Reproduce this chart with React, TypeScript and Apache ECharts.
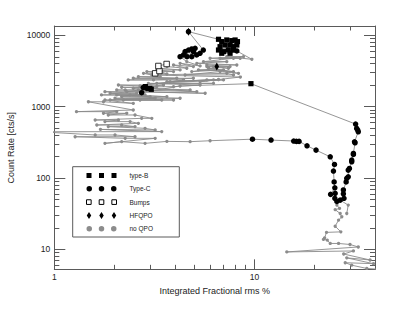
import React, { useEffect, useRef } from "react";
import * as echarts from "echarts";

type Pt = [number, number, string];
// [integrated fractional rms %, count rate cts/s, class]
// class: n = no QPO, B = type-B, C = type-C, U = bumps, H = HFQPO, HC = HFQPO + type-C

const riseTrack: Pt[] = [
  [28.9, 31.8, "n"], [29.4, 41.7, "n"],
  [26.8, 49, "C"], [28.0, 52, "C"], [27.8, 60, "C"], [27.8, 68, "C"], [28.7, 88, "C"],
  [28.9, 99, "C"], [29.4, 104, "C"], [29.4, 129, "C"], [29.8, 136, "C"], [30.6, 169, "C"],
  [30.6, 178, "C"], [31.2, 214, "C"], [31.2, 221, "C"], [31.8, 312, "C"], [31.6, 322, "C"],
  [33.0, 444, "C"], [32.8, 470, "C"], [32.4, 495, "C"], [32.0, 570, "C"],
  [9.6, 2100, "B"],
];

const softTrack: Pt[] = [
  [4.25, 1950, "n"],
  [2.73, 1570, "C"], [2.85, 1910, "B"], [2.78, 1850, "C"], [3.0, 1805, "B"], [2.9, 1800, "C"], [3.05, 1750, "B"],
  [3.25, 1910, "n"], [2.48, 1810, "n"], [3.51, 2010, "n"], [2.09, 2010, "n"], [2.68, 1950, "n"],
  [4.42, 2370, "n"], [2.34, 2370, "n"], [3.13, 2370, "n"], [4.95, 2500, "n"], [2.48, 2500, "n"],
  [4.09, 2500, "n"], [2.63, 2630, "n"], [3.38, 2630, "n"], [2.79, 2930, "n"],
  [3.19, 2930, "U"], [3.35, 3160, "U"],
  [3.65, 2870, "n"], [2.9, 3100, "n"], [3.94, 3100, "n"], [3.25, 3270, "n"], [4.25, 3270, "n"], [3.38, 3450, "n"],
  [3.31, 3715, "U"], [3.64, 3960, "U"],
  [3.65, 3640, "n"], [4.59, 3450, "n"], [3.94, 3840, "n"], [4.95, 3640, "n"], [4.25, 4050, "n"],
  [5.35, 3720, "n"], [4.59, 4270, "n"],
  [4.25, 5020, "C"], [4.42, 5300, "C"], [4.6, 5020, "C"], [4.5, 5900, "C"], [4.86, 5020, "C"],
  [4.68, 6220, "C"], [4.86, 6430, "C"], [5.05, 6580, "C"], [5.14, 5300, "C"], [4.95, 5900, "C"],
  [5.34, 5600, "C"], [5.55, 6220, "C"],
  [4.68, 11250, "HC"],
  [6.61, 8790, "B"], [6.86, 8150, "B"], [7.27, 8600, "B"], [7.7, 8420, "B"], [8.0, 8600, "B"],
  [8.22, 8150, "B"], [6.73, 6930, "B"], [7.13, 7310, "B"], [7.55, 7310, "B"], [7.85, 6930, "B"],
  [8.16, 7310, "B"], [6.61, 6220, "B"], [7.0, 5900, "B"], [7.4, 6220, "B"], [7.85, 6220, "B"],
  [6.86, 5600, "B"], [7.55, 5600, "B"],
  [8.16, 6030, "C"],
  [9.7, 4610, "n"], [7.27, 5020, "n"], [8.81, 5020, "n"], [6.0, 4760, "n"], [8.48, 4760, "n"],
  [6.73, 4760, "n"], [7.85, 4760, "n"], [5.56, 4270, "n"], [7.27, 4270, "n"], [5.15, 4050, "n"],
  [8.16, 3840, "n"], [5.78, 3840, "n"], [7.55, 3640, "n"], [5.78, 3640, "n"], [7.41, 3450, "n"],
  [6.48, 3640, "H"],
  [6.24, 3640, "n"], [6.48, 3450, "n"], [4.86, 3100, "n"], [7.0, 3270, "n"], [5.25, 3270, "n"],
  [7.85, 3100, "n"], [5.9, 3450, "n"], [8.32, 2930, "n"], [6.73, 3100, "n"], [4.5, 2780, "n"],
  [7.85, 2780, "n"], [7.27, 2930, "n"], [3.07, 2780, "n"], [8.5, 2600, "n"], [5.35, 2240, "n"],
  [6.61, 2400, "n"], [3.65, 2240, "n"], [6.24, 2370, "n"], [5.78, 2370, "n"], [3.79, 2240, "n"],
  [7.0, 2370, "n"], [3.25, 2120, "n"], [6.24, 2120, "n"], [2.95, 2120, "n"], [5.35, 2010, "n"],
  [3.94, 1910, "n"], [2.17, 1870, "n"], [4.77, 1710, "n"], [2.26, 1710, "n"], [2.05, 1710, "n"],
  [2.63, 1710, "n"], [5.15, 1620, "n"], [3.07, 1810, "n"], [2.3, 1620, "n"], [5.67, 1540, "n"],
  [2.79, 1620, "n"], [1.79, 1620, "n"], [2.58, 1540, "n"], [1.9, 1540, "n"], [2.84, 1460, "n"],
  [1.72, 1460, "n"], [2.39, 1460, "n"], [3.65, 1380, "n"], [2.05, 1460, "n"], [3.01, 1380, "n"],
  [2.17, 1380, "n"], [4.25, 1310, "n"], [2.01, 1310, "n"], [3.19, 1310, "n"], [1.9, 1240, "n"],
  [3.94, 1240, "n"], [2.21, 1240, "n"], [3.44, 1240, "n"], [2.68, 1240, "n"], [1.79, 1240, "n"],
  [2.48, 1110, "n"], [1.76, 1170, "n"], [1.48, 1170, "n"],
];

const lowTrack: Pt[] = [
  [2.48, 897, "n"], [1.29, 851, "n"], [2.05, 851, "n"], [1.76, 807, "n"], [2.3, 807, "n"],
  [1.86, 764, "n"], [2.53, 764, "n"], [3.07, 686, "n"], [2.73, 686, "n"], [1.6, 650, "n"],
  [2.09, 650, "n"], [1.79, 617, "n"], [2.39, 617, "n"], [2.63, 584, "n"], [1.63, 553, "n"],
  [2.17, 553, "n"], [2.53, 525, "n"], [1.86, 525, "n"], [2.84, 497, "n"], [3.19, 471, "n"],
  [1.7, 480, "n"], [3.44, 447, "n"], [0.85, 445, "n"], [1.6, 401, "n"], [2.01, 401, "n"],
  [2.53, 379, "n"], [1.27, 379, "n"], [2.26, 360, "n"], [3.19, 360, "n"], [1.79, 306, "n"],
  [2.17, 323, "n"], [2.84, 306, "n"], [3.65, 326, "n"], [4.77, 323, "n"], [6.0, 333, "n"],
];

const decayTrack: Pt[] = [
  [9.77, 350, "C"], [12.1, 340, "C"], [15.7, 330, "C"], [16.2, 326, "C"], [16.7, 326, "C"],
  [18.3, 283, "C"], [20.3, 246, "C"], [23.9, 198, "C"], [25.1, 155, "C"], [24.8, 125, "C"],
  [25.0, 88, "C"], [25.2, 73, "C"], [24.0, 59, "C"], [25.3, 61, "C"], [25.2, 52, "C"], [25.8, 47, "C"],
];

const tailTrack: Pt[] = [
  [25.8, 41.7, "n"], [26.6, 37.5, "n"], [25.3, 36, "n"], [26.8, 31.8, "n"], [27.3, 28.6, "n"],
  [26.3, 25.7, "n"], [25.3, 21.1, "n"], [27.0, 17.6, "n"], [22.9, 17.3, "n"], [22.4, 14.5, "n"],
  [22.1, 13.8, "n"], [23.1, 13.5, "n"], [23.9, 12.1, "n"], [26.3, 12.1, "n"], [30.0, 11.7, "n"],
  [33.0, 10.8, "n"], [14.5, 9.2, "n"], [31.2, 9.5, "n"], [27.9, 8.6, "n"], [37.8, 7.1, "n"],
  [28.9, 7.6, "n"], [39.3, 6.3, "n"], [28.4, 6.5, "n"], [30.6, 6.0, "n"], [36.4, 5.4, "n"], [45, 5.2, "n"],
];

const xRange = [1, 40];
const yRange = [5.25, 13500];
const xMajor = [1, 10];
const xMinor = [2, 3, 4, 5, 6, 7, 8, 9, 20, 30];
const yMajor = [10, 100, 1000, 10000];
const yMinor = [6, 7, 8, 9, 20, 30, 40, 50, 60, 70, 80, 90, 200, 300, 400, 500, 600, 700, 800, 900,
  2000, 3000, 4000, 5000, 6000, 7000, 8000, 9000];
const xTickLabels = ["1", "10"];
const yTickLabels = ["10", "100", "1000", "10000"];

const FRAME = "#5a5a5a";
const TEXT = "#222";
const GREY = "#8c8c8c";
const FONT = "'Liberation Sans', Arial, Helvetica, sans-serif";

const L = (v: number) => Math.log10(v);
const track = [...riseTrack, ...softTrack, ...lowTrack, ...decayTrack, ...tailTrack];
const pick = (cls: string) =>
  track.filter((p) => (cls === "n" ? p[2] === "n" : p[2].includes(cls))).map((p) => [L(p[0]), L(p[1])]);

const labelFor = (ticks: number[], labels: string[]) => (v: number) => {
  let best = 0;
  ticks.forEach((t, i) => { if (Math.abs(L(t) - v) < Math.abs(L(ticks[best]) - v)) best = i; });
  return labels[best];
};

function makeAxes(dim: "x" | "y") {
  const range = dim === "x" ? xRange : yRange;
  const major = dim === "x" ? xMajor : yMajor;
  const minor = dim === "x" ? xMinor : yMinor;
  const labels = dim === "x" ? xTickLabels : yTickLabels;
  const sides = dim === "x" ? ["bottom", "top"] : ["left", "right"];
  const majorLen = dim === "x" ? 10 : 11;
  const minorLen = dim === "x" ? 4.5 : 5;
  const base = {
    type: "value",
    min: L(range[0]),
    max: L(range[1]),
    splitLine: { show: false },
    silent: true,
  };
  const axes: any[] = [];
  sides.forEach((side, si) => {
    axes.push({
      ...base,
      position: side,
      axisLine: { show: true, onZero: false, lineStyle: { color: FRAME, width: 1 } },
      axisTick: { show: true, inside: true, length: majorLen, customValues: major.map(L), lineStyle: { color: FRAME, width: 1 } },
      axisLabel: si === 0
        ? { show: true, customValues: major.map(L), formatter: labelFor(major, labels), margin: dim === "x" ? 3 : 4, fontSize: 8.5, color: TEXT, fontFamily: FONT }
        : { show: false },
      ...(si === 0
        ? {
            name: dim === "x" ? "Integrated Fractional rms %" : "Count Rate [cts/s]",
            nameLocation: "middle",
            nameGap: dim === "x" ? 14.5 : 31,
            nameTextStyle: { fontSize: 9, color: TEXT, fontFamily: FONT },
          }
        : {}),
    });
    axes.push({
      ...base,
      position: side,
      axisLine: { show: false, onZero: false },
      axisTick: { show: true, inside: true, length: minorLen, customValues: minor.map(L), lineStyle: { color: FRAME, width: 1 } },
      axisLabel: { show: false },
    });
  });
  return axes;
}

const ICON_SQ = "path://M0,0h5v5h-5z M12.5,0h5v5h-5z M25,0h5v5h-5z";
const ICON_SQ_OPEN = "path://M0.5,0.5h4.5v4.5h-4.5z M12.75,0.5h4.5v4.5h-4.5z M25,0.5h4.5v4.5h-4.5z";
const ICON_CI =
  "path://M0,2.75a2.75,2.75 0 1,0 5.5,0a2.75,2.75 0 1,0 -5.5,0z M12.25,2.75a2.75,2.75 0 1,0 5.5,0a2.75,2.75 0 1,0 -5.5,0z M24.5,2.75a2.75,2.75 0 1,0 5.5,0a2.75,2.75 0 1,0 -5.5,0z";
const ICON_DI =
  "path://M2.25,0L4.5,3.5L2.25,7L0,3.5z M14.75,0L17,3.5L14.75,7L12.5,3.5z M27.25,0L29.5,3.5L27.25,7L25,3.5z";

export default function App() {
  const ref = useRef<HTMLDivElement>(null);
  useEffect(() => {
    if (!ref.current) return;
    const chart = echarts.init(ref.current, undefined, { renderer: "svg" });
    const option: any = {
      animation: false,
      backgroundColor: "#fff",
      textStyle: { fontFamily: FONT },
      grid: { left: 54.33, right: 32, top: 26, bottom: 43.67, containLabel: false, outerBoundsMode: "none" },
      xAxis: makeAxes("x"),
      yAxis: makeAxes("y"),
      legend: {
        orient: "vertical",
        left: 86,
        top: 171.5,
        padding: 0,
        itemGap: 5.3,
        itemWidth: 30,
        itemHeight: 7,
        selectedMode: false,
        textStyle: { fontSize: 6.5, lineHeight: 8, color: TEXT, fontFamily: FONT, padding: [0, 0, 0, 8] },
        data: [
          { name: "type-B", icon: ICON_SQ },
          { name: "Type-C", icon: ICON_CI },
          { name: "Bumps", icon: ICON_SQ_OPEN, itemStyle: { borderWidth: 1 } },
          { name: "HFQPO", icon: ICON_DI },
          { name: "no QPO", icon: ICON_CI },
        ],
      },
      graphic: [
        {
          type: "rect",
          z: 0,
          silent: true,
          shape: { x: 72.7, y: 166.7, width: 106.6, height: 70.3 },
          style: { fill: "none", stroke: FRAME, lineWidth: 1 },
        },
      ],
      series: [
        {
          name: "track",
          type: "line",
          data: track.map((p) => [L(p[0]), L(p[1])]),
          showSymbol: false,
          symbol: "none",
          silent: true,
          z: 1,
          lineStyle: { color: "#8a8a8a", width: 0.9 },
        },
        {
          name: "no QPO",
          type: "scatter",
          data: pick("n"),
          symbol: "circle",
          symbolSize: 3.3,
          z: 2,
          itemStyle: { color: GREY, opacity: 1 },
        },
        {
          name: "Type-C",
          type: "scatter",
          data: pick("C"),
          symbol: "circle",
          symbolSize: 5.5,
          z: 3,
          itemStyle: { color: "#000", opacity: 1 },
        },
        {
          name: "type-B",
          type: "scatter",
          data: pick("B"),
          symbol: "rect",
          symbolSize: 5.2,
          z: 4,
          itemStyle: { color: "#000", opacity: 1 },
        },
        {
          name: "Bumps",
          type: "scatter",
          data: pick("U"),
          symbol: "rect",
          symbolSize: 5.5,
          z: 5,
          itemStyle: { color: "#fff", borderColor: "#000", borderWidth: 0.8, opacity: 1 },
        },
        {
          name: "HFQPO",
          type: "scatter",
          data: pick("H"),
          symbol: "diamond",
          symbolSize: [4.5, 8],
          z: 6,
          itemStyle: { color: "#000", opacity: 1 },
        },
      ],
    };
    chart.setOption(option);
    return () => chart.dispose();
  }, []);
  return <div ref={ref} style={{ position: "fixed", left: 0, top: 0, width: 407, height: 313 }} />;
}
